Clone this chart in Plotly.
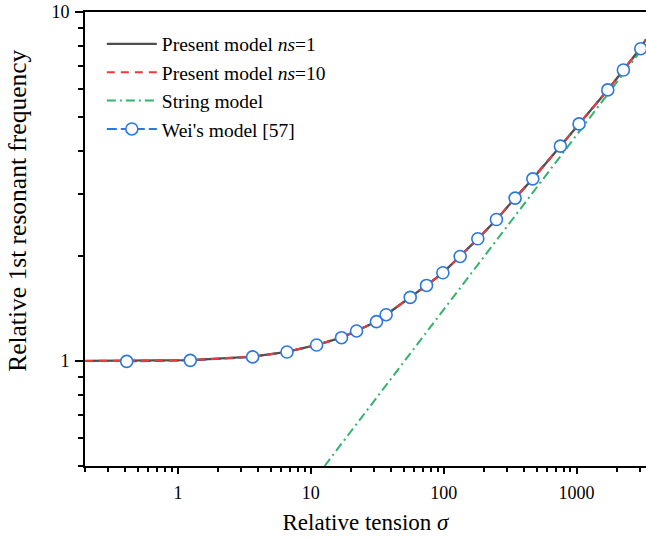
import math
import plotly.graph_objects as go

# Relative tension (sigma) and relative 1st resonant frequency
sigma_present = [0.2, 0.41, 1.24, 3.65, 6.6, 11.1, 17.0, 22.1, 31.2, 36.9, 56.0, 74.3,
                 98.6, 133, 181, 250, 345, 469, 756, 1044, 1717, 2249, 3040, 3330]
freq_ns1 = [1.000, 1.001, 1.006, 1.029, 1.062, 1.112, 1.167, 1.220, 1.297, 1.357, 1.521, 1.646,
            1.789, 1.993, 2.239, 2.543, 2.929, 3.326, 4.126, 4.779, 5.98, 6.82, 7.90, 8.35]
freq_ns10 = [1.000, 1.001, 1.006, 1.029, 1.062, 1.112, 1.167, 1.220, 1.297, 1.357, 1.521, 1.646,
             1.789, 1.993, 2.239, 2.543, 2.929, 3.326, 4.126, 4.779, 5.98, 6.82, 7.90, 8.35]

sigma_string = [12.7, 3330]
freq_string = [0.50, 8.10]

sigma_wei = [0.412, 1.24, 3.65, 6.62, 11.06, 17.04, 22.1, 31.2, 36.9, 56.0, 74.3,
             98.6, 133, 180.7, 249.5, 344.8, 468.6, 755.8, 1044, 1717, 2249, 3040]
freq_wei = [0.997, 1.004, 1.027, 1.061, 1.111, 1.166, 1.219, 1.296, 1.357, 1.521, 1.646,
            1.789, 1.993, 2.239, 2.543, 2.929, 3.326, 4.126, 4.779, 5.98, 6.82, 7.85]

x_tickvals = [1, 10, 100, 1000]
x_ticktext = ["1", "10", "100", "1000"]
y_tickvals = [1, 10]
y_ticktext = ["1", "10"]

FONT = "Liberation Serif, Times New Roman, serif"
GRAY, RED, GREEN, BLUE = "#4f4f4f", "#f03a3a", "#33b36b", "#2a78e0"
wei_line = dict(color=BLUE, width=2, dash="10px,4px")
wei_marker = dict(symbol="circle", size=12, color="white", line=dict(color=BLUE, width=1.6))

fig = go.Figure()
# Wei's model: dashed line sits underneath the present-model curves
fig.add_trace(go.Scatter(x=sigma_wei, y=freq_wei, mode="lines", line=wei_line,
                         showlegend=False, hoverinfo="skip"))
fig.add_trace(go.Scatter(x=sigma_present, y=freq_ns1, mode="lines",
                         name="Present model <i>ns</i>=1",
                         line=dict(color=GRAY, width=2.3)))
fig.add_trace(go.Scatter(x=sigma_present, y=freq_ns10, mode="lines",
                         name="Present model <i>ns</i>=10",
                         line=dict(color=RED, width=2, dash="8px,6px")))
fig.add_trace(go.Scatter(x=sigma_string, y=freq_string, mode="lines",
                         name="String model",
                         line=dict(color=GREEN, width=2, dash="9px,4px,2px,4px")))
# Wei's model markers on top
fig.add_trace(go.Scatter(x=sigma_wei, y=freq_wei, mode="markers", marker=wei_marker,
                         showlegend=False))
# legend entry for Wei's model
fig.add_trace(go.Scatter(x=[None], y=[None], mode="lines+markers",
                         name="Wei's model [57]", line=wei_line, marker=wei_marker))

axis_common = dict(
    type="log",
    showline=True, linecolor="black", linewidth=2,
    ticks="outside", tickcolor="black", tickwidth=1.6,
    showgrid=False, zeroline=False,
    tickfont=dict(family=FONT, size=18, color="black"),
)

fig.update_xaxes(
    **axis_common,
    range=[math.log10(0.2), math.log10(3330)],
    tickvals=x_tickvals, ticktext=x_ticktext, ticklen=6, ticklabelstandoff=3,
    minor=dict(ticks="outside", ticklen=4, tickcolor="black", tickwidth=1.6, dtick="D1"),
    mirror=True,
    title=dict(text="Relative tension <i>σ</i>", font=dict(family=FONT, size=23, color="black"),
               standoff=12),
    automargin=False,
)
fig.update_yaxes(
    **axis_common,
    range=[math.log10(0.5), 1],
    tickvals=y_tickvals, ticktext=y_ticktext, ticklen=8, ticklabelstandoff=2,
    minor=dict(ticks="outside", ticklen=5, tickcolor="black", tickwidth=1.6, dtick="D1"),
    automargin=False,
)

# vertical axis title
fig.add_annotation(text="Relative 1st resonant frequency", textangle=-90,
                   xref="paper", yref="paper", x=-0.1194, y=0.562,
                   xanchor="center", yanchor="middle", showarrow=False,
                   font=dict(family=FONT, size=25.5, color="black"))

fig.update_layout(
    width=646, height=541,
    margin=dict(l=85, r=0, t=12, b=75),
    plot_bgcolor="white", paper_bgcolor="white",
    showlegend=True,
    legend=dict(x=0.03, y=0.972, xanchor="left", yanchor="top",
                font=dict(family=FONT, size=19.5, color="black"),
                bgcolor="rgba(0,0,0,0)", itemwidth=50, tracegroupgap=0),
)

fig.write_html("out.html")
